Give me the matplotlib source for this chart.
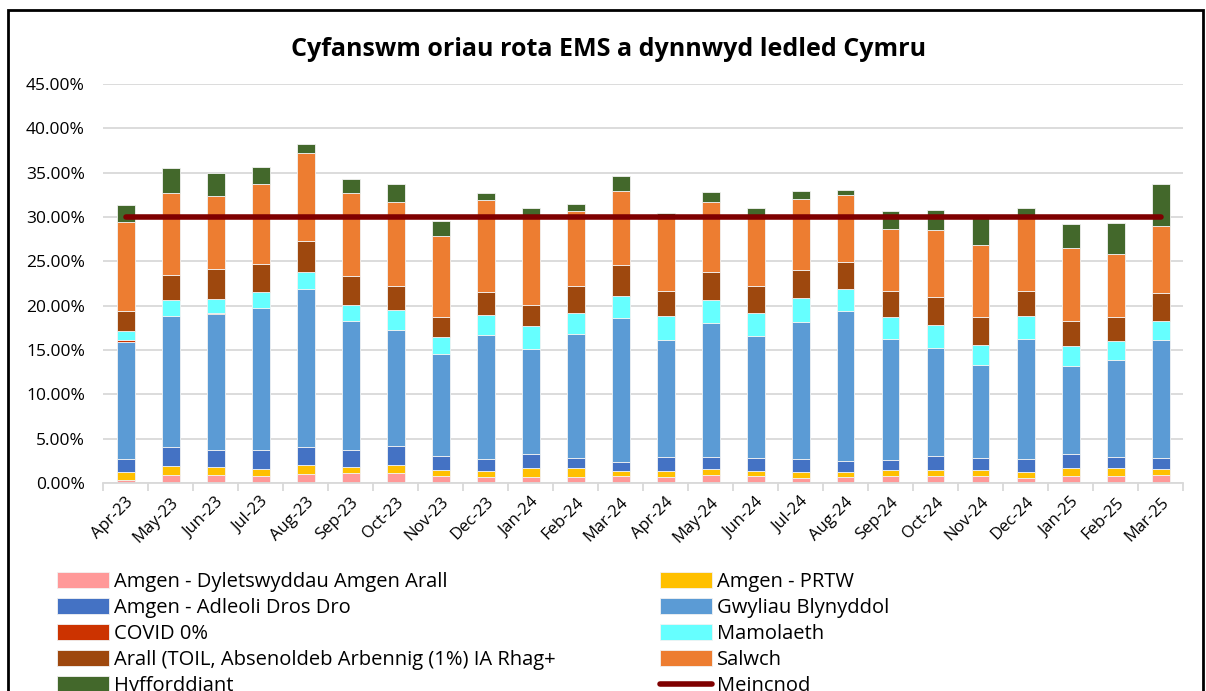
import matplotlib.pyplot as plt
import matplotlib.patches as patches
import numpy as np

plt.rcParams['font.family'] = ['Open Sans', 'DejaVu Sans']

# DATA ---------
months = ['Apr-23', 'May-23', 'Jun-23', 'Jul-23', 'Aug-23', 'Sep-23', 'Oct-23', 'Nov-23',
          'Dec-23', 'Jan-24', 'Feb-24', 'Mar-24', 'Apr-24', 'May-24', 'Jun-24', 'Jul-24',
          'Aug-24', 'Sep-24', 'Oct-24', 'Nov-24', 'Dec-24', 'Jan-25', 'Feb-25', 'Mar-25']

amgen_arall = [0.30, 0.94, 0.87, 0.79, 1.06, 1.09, 1.09, 0.79, 0.68, 0.68, 0.72, 0.83,
               0.68, 0.90, 0.83, 0.60, 0.72, 0.75, 0.75, 0.83, 0.60, 0.75, 0.83, 0.87]
amgen_prtw = [0.91, 1.02, 0.90, 0.83, 0.97, 0.76, 0.94, 0.72, 0.64, 1.02, 0.94, 0.56,
              0.71, 0.68, 0.56, 0.64, 0.52, 0.68, 0.72, 0.64, 0.68, 0.91, 0.83, 0.75]
amgen_adleoli = [1.54, 2.11, 2.00, 2.11, 2.04, 1.92, 2.15, 1.54, 1.43, 1.62, 1.13, 0.98,
                 1.51, 1.40, 1.47, 1.47, 1.21, 1.17, 1.58, 1.39, 1.40, 1.62, 1.28, 1.24]
gwyliau = [13.19, 14.77, 15.33, 16.01, 17.86, 14.54, 13.12, 11.46, 13.98, 11.79, 14.05, 16.28,
           13.19, 15.03, 13.72, 15.49, 16.99, 13.68, 12.17, 10.40, 13.60, 9.91, 10.96, 13.30]
covid = [0.15, 0.05, 0.05, 0, 0, 0, 0, 0, 0, 0, 0, 0,
         0, 0, 0, 0, 0, 0, 0, 0, 0, 0, 0, 0]
mamolaeth = [1.02, 1.76, 1.65, 1.81, 1.88, 1.81, 2.26, 1.99, 2.22, 2.56, 2.38, 2.49,
             2.71, 2.60, 2.60, 2.67, 2.45, 2.45, 2.60, 2.34, 2.52, 2.26, 2.15, 2.15]
arall = [2.26, 2.86, 3.39, 3.13, 3.51, 3.28, 2.71, 2.19, 2.64, 2.38, 2.97, 3.50,
         2.90, 3.24, 3.09, 3.13, 3.09, 2.90, 3.13, 3.09, 2.90, 2.86, 2.71, 3.17]
salwch = [10.06, 9.16, 8.21, 9.01, 9.88, 9.27, 9.38, 9.16, 10.33, 10.21, 8.52, 8.33,
          8.20, 7.80, 7.63, 8.03, 7.46, 6.97, 7.61, 8.10, 8.56, 8.22, 7.09, 7.46]
hyfforddiant = [1.92, 2.86, 2.57, 1.96, 1.00, 1.66, 2.11, 1.75, 0.79, 0.71, 0.79, 1.66,
                0.55, 1.17, 1.15, 0.86, 0.61, 2.03, 2.22, 3.20, 0.75, 2.67, 3.47, 4.78]
meincnod = [30] * len(months)

series = [
    ('Amgen - Dyletswyddau Amgen Arall', amgen_arall, '#FF9999'),
    ('Amgen - PRTW', amgen_prtw, '#FFC000'),
    ('Amgen - Adleoli Dros Dro', amgen_adleoli, '#4472C4'),
    ('Gwyliau Blynyddol', gwyliau, '#5B9BD5'),
    ('COVID 0%', covid, '#CC3300'),
    ('Mamolaeth', mamolaeth, '#66FFFF'),
    ('Arall (TOIL, Absenoldeb Arbennig (1%) IA Rhag+', arall, '#9E480E'),
    ('Salwch', salwch, '#ED7D31'),
    ('Hyfforddiant', hyfforddiant, '#43682B'),
]

# PLOT ---------
fig = plt.figure(figsize=(12.06, 6.91), dpi=100)
ax = fig.add_axes([103 / 1206, 1 - 483 / 691, 1080 / 1206, 399 / 691])

x = np.arange(len(months))
bottom = np.zeros(len(months))
handles = {}
for name, vals, col in series:
    vals = np.array(vals)
    b = ax.bar(x, vals, 0.4, bottom=bottom, color=col, edgecolor='#F2F2F2',
               linewidth=0.6, label=name, zorder=2)
    handles[name] = b
    bottom += vals

line, = ax.plot(x, meincnod, color='#7F0000', lw=4, solid_capstyle='round',
                zorder=3, label='Meincnod')

ax.set_xlim(-0.5, len(months) - 0.5)
ax.set_ylim(0, 45)
ax.set_yticks(np.arange(0, 46, 5))
ax.set_yticklabels(['%.2f%%' % v for v in np.arange(0, 46, 5)], fontsize=12.5)
ax.yaxis.grid(True, color='#D9D9D9', lw=1.3, zorder=0)
ax.set_axisbelow(True)
for s in ['top', 'right', 'left']:
    ax.spines[s].set_visible(False)
ax.spines['bottom'].set_color('#D9D9D9')
ax.spines['bottom'].set_linewidth(1.3)
ax.tick_params(axis='y', length=0, pad=13)

ax.set_xticks(x)
ax.set_xticklabels(months, rotation=45, ha='right', rotation_mode='anchor', fontsize=12)
ax.tick_params(axis='x', which='major', length=0, pad=8)
ax.set_xticks(np.arange(-0.5, len(months), 1), minor=True)
ax.tick_params(axis='x', which='minor', length=6, color='#D9D9D9', width=1.3)

fig.text(0.505, 1 - 50 / 691, 'Cyfanswm oriau rota EMS a dynnwyd ledled Cymru',
         ha='center', va='center', fontsize=18, fontweight='bold')

# legend, row-wise order in two columns
order = ['Amgen - Dyletswyddau Amgen Arall', 'Amgen - Adleoli Dros Dro', 'COVID 0%',
         'Arall (TOIL, Absenoldeb Arbennig (1%) IA Rhag+', 'Hyfforddiant',
         'Amgen - PRTW', 'Gwyliau Blynyddol', 'Mamolaeth', 'Salwch']
h = [handles[n] for n in order] + [line]
lab = order + ['Meincnod']
fig.legend(h, lab, loc='upper left', bbox_to_anchor=(57 / 1206, 1 - 572 / 691),
           ncol=2, frameon=False, fontsize=14.5, handlelength=2.6, handleheight=0.85,
           handletextpad=0.25, columnspacing=5.15, labelspacing=0.3, borderaxespad=0,
           borderpad=0)

# outer frame
fig.patches.append(patches.Rectangle((8 / 1206, -0.05), 1195 / 1206, 1.05 - 10 / 691,
                                     transform=fig.transFigure, fill=False,
                                     edgecolor='black', lw=2))

fig.savefig('out.png', dpi=100)
